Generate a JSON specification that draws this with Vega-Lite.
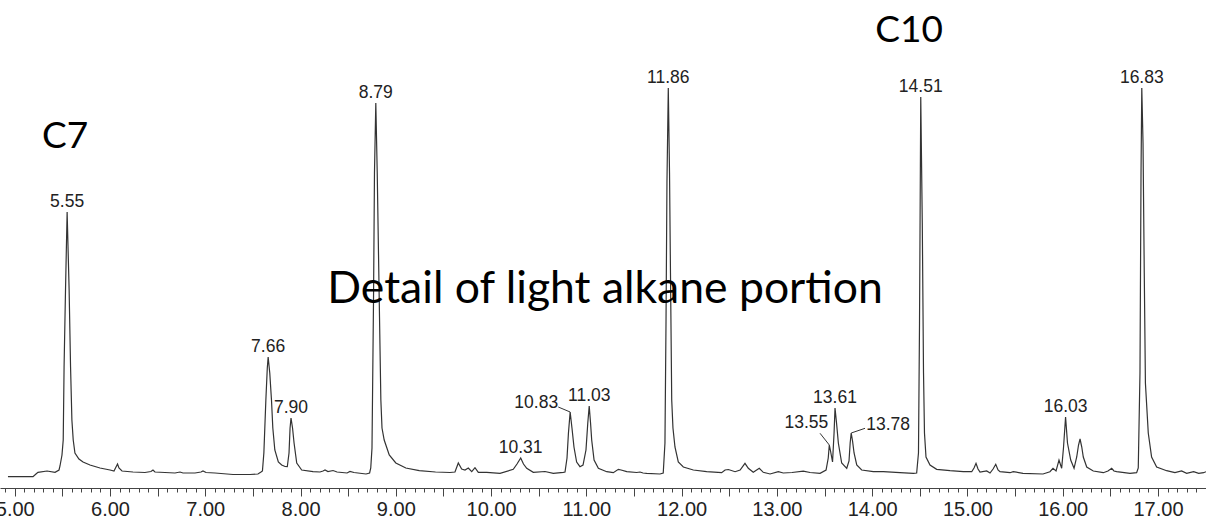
{
  "$schema": "https://vega.github.io/schema/vega-lite/v6.json",
  "width": 1206,
  "height": 488,
  "autosize": "none",
  "padding": {"left": 0, "top": 0, "right": 0, "bottom": 33},
  "background": "white",
  "config": {"view": {"stroke": null}},
  "datasets": {
    "trace": [
      {"t":4.929,"v":-3.7},{"t":5.192,"v":-3.7},{"t":5.223,"v":-1},{"t":5.244,"v":0.7},{"t":5.339,"v":2},{"t":5.423,"v":0.7},{"t":5.465,"v":3},{"t":5.475,"v":7},{"t":5.496,"v":18},{"t":5.509,"v":33},{"t":5.518,"v":106},{"t":5.533,"v":183},{"t":5.55,"v":261},{"t":5.571,"v":183},{"t":5.586,"v":106},{"t":5.6,"v":53},{"t":5.614,"v":33},{"t":5.632,"v":20},{"t":5.674,"v":14},{"t":5.717,"v":11},{"t":5.79,"v":8},{"t":5.895,"v":5},{"t":6.0,"v":3},{"t":6.042,"v":2},{"t":6.063,"v":6},{"t":6.079,"v":9},{"t":6.094,"v":5},{"t":6.126,"v":2},{"t":6.241,"v":1},{"t":6.367,"v":0.5},{"t":6.43,"v":1.5},{"t":6.451,"v":3},{"t":6.472,"v":1},{"t":6.577,"v":0.5},{"t":6.682,"v":0},{"t":6.735,"v":1},{"t":6.766,"v":0},{"t":6.892,"v":0},{"t":6.955,"v":1},{"t":6.976,"v":2},{"t":7.008,"v":0.5},{"t":7.102,"v":0},{"t":7.291,"v":-1.5},{"t":7.47,"v":-1.5},{"t":7.553,"v":-1},{"t":7.585,"v":1},{"t":7.6,"v":2},{"t":7.615,"v":20},{"t":7.636,"v":73},{"t":7.651,"v":105},{"t":7.66,"v":116},{"t":7.677,"v":100},{"t":7.695,"v":73},{"t":7.709,"v":45},{"t":7.73,"v":23},{"t":7.767,"v":11},{"t":7.802,"v":8},{"t":7.837,"v":6.5},{"t":7.861,"v":6.3},{"t":7.879,"v":20},{"t":7.89,"v":45},{"t":7.9,"v":55},{"t":7.916,"v":45},{"t":7.932,"v":30},{"t":7.96,"v":10},{"t":8.012,"v":3},{"t":8.131,"v":1.3},{"t":8.204,"v":1},{"t":8.236,"v":2},{"t":8.257,"v":3},{"t":8.288,"v":1.5},{"t":8.341,"v":2.5},{"t":8.383,"v":1},{"t":8.488,"v":0},{"t":8.519,"v":1.5},{"t":8.561,"v":0.5},{"t":8.645,"v":-0.5},{"t":8.687,"v":-1},{"t":8.725,"v":0},{"t":8.737,"v":5},{"t":8.75,"v":25},{"t":8.766,"v":173},{"t":8.776,"v":300},{"t":8.79,"v":370},{"t":8.805,"v":300},{"t":8.826,"v":173},{"t":8.843,"v":73},{"t":8.855,"v":45},{"t":8.878,"v":33},{"t":8.931,"v":18},{"t":9.0,"v":10},{"t":9.105,"v":5},{"t":9.246,"v":2.3},{"t":9.417,"v":1},{"t":9.569,"v":0.5},{"t":9.621,"v":1},{"t":9.656,"v":10},{"t":9.691,"v":4},{"t":9.726,"v":3},{"t":9.761,"v":5},{"t":9.797,"v":1.3},{"t":9.831,"v":5.3},{"t":9.866,"v":0.7},{"t":9.954,"v":0.7},{"t":10.094,"v":-0.3},{"t":10.233,"v":3.7},{"t":10.272,"v":9},{"t":10.311,"v":15},{"t":10.34,"v":9},{"t":10.374,"v":4.7},{"t":10.443,"v":0.7},{"t":10.566,"v":1.5},{"t":10.653,"v":-0.3},{"t":10.758,"v":0.7},{"t":10.776,"v":1},{"t":10.797,"v":15},{"t":10.812,"v":40},{"t":10.83,"v":61},{"t":10.849,"v":45},{"t":10.87,"v":26},{"t":10.898,"v":11},{"t":10.933,"v":6.3},{"t":10.965,"v":8},{"t":10.996,"v":23},{"t":11.015,"v":50},{"t":11.03,"v":67},{"t":11.044,"v":50},{"t":11.056,"v":33},{"t":11.081,"v":13},{"t":11.126,"v":4.7},{"t":11.214,"v":1.3},{"t":11.283,"v":0.3},{"t":11.336,"v":3.7},{"t":11.364,"v":3},{"t":11.424,"v":1.3},{"t":11.528,"v":0.5},{"t":11.563,"v":1},{"t":11.595,"v":0},{"t":11.633,"v":-0.3},{"t":11.773,"v":-1},{"t":11.807,"v":0},{"t":11.825,"v":30},{"t":11.836,"v":150},{"t":11.846,"v":290},{"t":11.86,"v":385},{"t":11.873,"v":300},{"t":11.883,"v":200},{"t":11.896,"v":73},{"t":11.909,"v":45},{"t":11.93,"v":26},{"t":11.965,"v":11},{"t":12.018,"v":6},{"t":12.123,"v":3},{"t":12.263,"v":1.3},{"t":12.42,"v":0.3},{"t":12.456,"v":3},{"t":12.491,"v":3.5},{"t":12.561,"v":1.3},{"t":12.614,"v":3},{"t":12.665,"v":9.7},{"t":12.7,"v":4.7},{"t":12.752,"v":0.7},{"t":12.815,"v":4.7},{"t":12.857,"v":0.7},{"t":12.928,"v":-1},{"t":13.015,"v":1.3},{"t":13.067,"v":0},{"t":13.159,"v":0.5},{"t":13.277,"v":1.8},{"t":13.348,"v":0.5},{"t":13.453,"v":-0.3},{"t":13.516,"v":3},{"t":13.539,"v":15},{"t":13.55,"v":28},{"t":13.563,"v":22},{"t":13.584,"v":11},{"t":13.6,"v":40},{"t":13.61,"v":65},{"t":13.626,"v":50},{"t":13.645,"v":30},{"t":13.68,"v":10},{"t":13.733,"v":4.7},{"t":13.757,"v":12},{"t":13.769,"v":30},{"t":13.78,"v":40},{"t":13.794,"v":32},{"t":13.81,"v":20},{"t":13.838,"v":8},{"t":13.89,"v":3},{"t":14.012,"v":1.3},{"t":14.117,"v":1.3},{"t":14.292,"v":0.3},{"t":14.432,"v":-0.3},{"t":14.467,"v":0},{"t":14.486,"v":20},{"t":14.497,"v":150},{"t":14.51,"v":376},{"t":14.526,"v":250},{"t":14.539,"v":100},{"t":14.549,"v":40},{"t":14.565,"v":16},{"t":14.607,"v":8},{"t":14.677,"v":3.7},{"t":14.817,"v":2.3},{"t":14.957,"v":1.3},{"t":15.045,"v":1.3},{"t":15.069,"v":5},{"t":15.09,"v":9.7},{"t":15.111,"v":4},{"t":15.132,"v":1},{"t":15.202,"v":2},{"t":15.237,"v":0},{"t":15.269,"v":4},{"t":15.297,"v":8.7},{"t":15.321,"v":3},{"t":15.342,"v":1.3},{"t":15.447,"v":0.3},{"t":15.481,"v":1.3},{"t":15.583,"v":-0.3},{"t":15.793,"v":-1},{"t":15.866,"v":1.3},{"t":15.898,"v":4.7},{"t":15.93,"v":2},{"t":15.961,"v":13},{"t":15.989,"v":4.7},{"t":16.008,"v":25},{"t":16.03,"v":56},{"t":16.05,"v":30},{"t":16.084,"v":13},{"t":16.119,"v":4.7},{"t":16.147,"v":16},{"t":16.166,"v":28},{"t":16.182,"v":34},{"t":16.2,"v":26},{"t":16.216,"v":16},{"t":16.252,"v":6},{"t":16.321,"v":2},{"t":16.426,"v":0.3},{"t":16.475,"v":2},{"t":16.514,"v":4.7},{"t":16.538,"v":2},{"t":16.566,"v":1.3},{"t":16.706,"v":-0.3},{"t":16.776,"v":0.3},{"t":16.793,"v":5},{"t":16.811,"v":100},{"t":16.822,"v":300},{"t":16.83,"v":385},{"t":16.843,"v":330},{"t":16.856,"v":200},{"t":16.868,"v":90},{"t":16.898,"v":40},{"t":16.933,"v":16},{"t":16.986,"v":6},{"t":17.091,"v":2.3},{"t":17.178,"v":0.3},{"t":17.248,"v":2},{"t":17.301,"v":-0.3},{"t":17.374,"v":1.3},{"t":17.427,"v":-0.3},{"t":17.479,"v":0.3},{"t":17.504,"v":1.3}
    ],
    "peaks": [
      {"t":5.55,"h":261},{"t":7.66,"h":116},{"t":7.9,"h":55},{"t":8.79,"h":370},{"t":10.31,"h":15},{"t":10.83,"h":61},{"t":11.03,"h":67},{"t":11.86,"h":385},{"t":13.55,"h":28},{"t":13.61,"h":65},{"t":13.78,"h":40},{"t":14.51,"h":376},{"t":16.03,"h":56},{"t":16.83,"h":385}
    ]
  },
  "encoding": {
    "x": {
      "type": "quantitative",
      "scale": {"domain": [4.8454, 17.504], "nice": false, "zero": false},
      "axis": {
        "title": null,
        "grid": false,
        "values": [4.9,5,5.1,5.2,5.3,5.4,5.5,5.6,5.7,5.8,5.9,6,6.1,6.2,6.3,6.4,6.5,6.6,6.7,6.8,6.9,7,7.1,7.2,7.3,7.4,7.5,7.6,7.7,7.8,7.9,8,8.1,8.2,8.3,8.4,8.5,8.6,8.7,8.8,8.9,9,9.1,9.2,9.3,9.4,9.5,9.6,9.7,9.8,9.9,10,10.1,10.2,10.3,10.4,10.5,10.6,10.7,10.8,10.9,11,11.1,11.2,11.3,11.4,11.5,11.6,11.7,11.8,11.9,12,12.1,12.2,12.3,12.4,12.5,12.6,12.7,12.8,12.9,13,13.1,13.2,13.3,13.4,13.5,13.6,13.7,13.8,13.9,14,14.1,14.2,14.3,14.4,14.5,14.6,14.7,14.8,14.9,15,15.1,15.2,15.3,15.4,15.5,15.6,15.7,15.8,15.9,16,16.1,16.2,16.3,16.4,16.5,16.6,16.7,16.8,16.9,17,17.1,17.2,17.3,17.4,17.5],
        "labelExpr": "abs(datum.value - round(datum.value)) < 0.001 ? format(datum.value, '.2f') : ''",
        "labelOverlap": false,
        "labelFlush": false,
        "labelBound": false,
        "labelFont": "Liberation Sans",
        "labelFontSize": 20,
        "labelColor": "#222222",
        "labelPadding": 3,
        "tickSize": {"condition": {"test": "abs(datum.value * 2 - round(datum.value * 2)) < 0.001", "value": 8}, "value": 4},
        "tickColor": "#444444",
        "tickWidth": 1,
        "domainColor": "#444444",
        "domainWidth": 1
      }
    },
    "y": {
      "type": "quantitative",
      "scale": {"domain": [-15, 473], "nice": false, "zero": false},
      "axis": null
    }
  },
  "layer": [
    {
      "data": {"name": "trace"},
      "mark": {"type": "line", "color": "#333333", "strokeWidth": 1.2, "clip": true},
      "encoding": {"x": {"field": "t"}, "y": {"field": "v"}}
    },
    {
      "data": {"name": "peaks"},
      "transform": [{"filter": "datum.t != 10.83 && datum.t != 13.55 && datum.t != 13.78"}],
      "mark": {"type": "text", "align": "center", "baseline": "alphabetic", "dy": -5, "font": "Liberation Sans", "fontSize": 17.5, "color": "#222222"},
      "encoding": {"x": {"field": "t"}, "y": {"field": "h"}, "text": {"field": "t", "type": "quantitative", "format": ".2f"}}
    },
    {
      "data": {"name": "peaks"},
      "transform": [{"filter": "datum.t == 10.83"}],
      "mark": {"type": "text", "align": "right", "baseline": "alphabetic", "dx": -12, "dy": -4, "font": "Liberation Sans", "fontSize": 17.5, "color": "#222222"},
      "encoding": {"x": {"field": "t"}, "y": {"field": "h"}, "text": {"field": "t", "type": "quantitative", "format": ".2f"}}
    },
    {
      "data": {"name": "peaks"},
      "transform": [{"filter": "datum.t == 13.55"}],
      "mark": {"type": "text", "align": "right", "baseline": "alphabetic", "dx": -1, "dy": -17, "font": "Liberation Sans", "fontSize": 17.5, "color": "#222222"},
      "encoding": {"x": {"field": "t"}, "y": {"field": "h"}, "text": {"field": "t", "type": "quantitative", "format": ".2f"}}
    },
    {
      "data": {"name": "peaks"},
      "transform": [{"filter": "datum.t == 13.78"}],
      "mark": {"type": "text", "align": "left", "baseline": "alphabetic", "dx": 15, "dy": -3, "font": "Liberation Sans", "fontSize": 17.5, "color": "#222222"},
      "encoding": {"x": {"field": "t"}, "y": {"field": "h"}, "text": {"field": "t", "type": "quantitative", "format": ".2f"}}
    },
    {
      "data": {"name": "peaks"},
      "transform": [{"filter": "datum.t == 10.83"}],
      "mark": {"type": "rule", "color": "#333333", "strokeWidth": 1},
      "encoding": {"x": {"field": "t"}, "y": {"field": "h"}, "x2": {"datum": 10.705}, "y2": {"datum": 66}}
    },
    {
      "data": {"name": "peaks"},
      "transform": [{"filter": "datum.t == 13.55"}],
      "mark": {"type": "rule", "color": "#333333", "strokeWidth": 1},
      "encoding": {"x": {"field": "t"}, "y": {"field": "h"}, "x2": {"datum": 13.453}, "y2": {"datum": 39.7}}
    },
    {
      "data": {"name": "peaks"},
      "transform": [{"filter": "datum.t == 13.78"}],
      "mark": {"type": "rule", "color": "#333333", "strokeWidth": 1},
      "encoding": {"x": {"field": "t"}, "y": {"field": "h"}, "x2": {"datum": 13.925}, "y2": {"datum": 44.7}}
    },
    {
      "data": {"values": [{}]},
      "mark": {"type": "text", "align": "center", "baseline": "alphabetic", "font": "Lato", "fontSize": 37, "color": "#000000", "text": "C7"},
      "encoding": {"x": {"datum": 5.528}, "y": {"datum": 325}}
    },
    {
      "data": {"values": [{}]},
      "mark": {"type": "text", "align": "center", "baseline": "alphabetic", "font": "Lato", "fontSize": 37, "color": "#000000", "text": "C10"},
      "encoding": {"x": {"datum": 14.387}, "y": {"datum": 431}}
    },
    {
      "data": {"values": [{}]},
      "mark": {"type": "text", "align": "center", "baseline": "alphabetic", "font": "Lato", "fontSize": 44.5, "color": "#000000", "text": "Detail of light alkane portion"},
      "encoding": {"x": {"datum": 11.196}, "y": {"datum": 170}}
    }
  ]
}
